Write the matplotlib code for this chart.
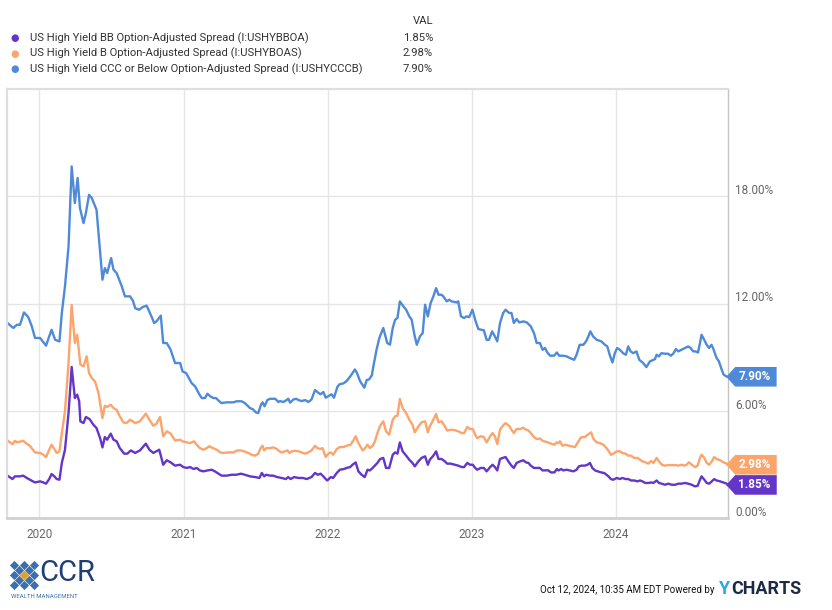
import matplotlib
matplotlib.use("Agg")
import matplotlib.pyplot as plt
from matplotlib.path import Path
import pandas as pd

plt.rcParams['font.family'] = ['Roboto', 'DejaVu Sans']

# --- data (values in %) ---
ccc_dates = [
    "2019-10-12", "2019-10-27", "2019-11-05", "2019-11-13", "2019-11-23", "2019-12-04", "2019-12-13",
    "2019-12-21", "2020-01-03", "2020-01-18", "2020-01-26", "2020-02-01", "2020-02-10", "2020-02-21",
    "2020-02-27", "2020-03-06", "2020-03-15", "2020-03-23", "2020-03-31", "2020-04-07", "2020-04-13",
    "2020-04-22", "2020-04-28", "2020-05-06", "2020-05-13", "2020-05-25", "2020-06-09", "2020-06-15",
    "2020-06-21", "2020-07-01", "2020-07-07", "2020-07-15", "2020-07-28", "2020-08-05", "2020-08-18",
    "2020-08-25", "2020-08-31", "2020-09-10", "2020-09-19", "2020-09-29", "2020-10-12", "2020-10-18",
    "2020-10-24", "2020-11-04", "2020-11-10", "2020-11-19", "2020-11-29", "2020-12-10", "2020-12-23",
    "2020-12-29", "2021-01-07", "2021-01-21", "2021-01-30", "2021-02-10", "2021-02-16", "2021-02-24",
    "2021-03-02", "2021-03-10", "2021-03-17", "2021-03-24", "2021-04-01", "2021-04-07", "2021-04-20",
    "2021-05-07", "2021-05-15", "2021-05-28", "2021-06-05", "2021-06-18", "2021-06-25", "2021-07-03",
    "2021-07-09", "2021-07-16", "2021-07-20", "2021-07-25", "2021-08-01", "2021-08-08", "2021-08-21",
    "2021-08-29", "2021-09-02", "2021-09-11", "2021-09-19", "2021-09-23", "2021-09-28", "2021-10-06",
    "2021-10-13", "2021-10-19", "2021-10-27", "2021-11-05", "2021-11-13", "2021-11-21", "2021-11-30",
    "2021-12-08", "2021-12-14", "2021-12-21", "2021-12-27", "2022-01-03", "2022-01-11", "2022-01-17",
    "2022-01-26", "2022-01-31", "2022-02-10", "2022-02-18", "2022-02-28", "2022-03-11", "2022-03-16",
    "2022-03-24", "2022-04-04", "2022-04-10", "2022-04-16", "2022-04-23", "2022-04-27", "2022-05-05",
    "2022-05-12", "2022-05-22", "2022-06-01", "2022-06-08", "2022-06-15", "2022-06-21", "2022-06-27",
    "2022-07-03", "2022-07-12", "2022-07-19", "2022-07-27", "2022-08-02", "2022-08-09", "2022-08-15",
    "2022-08-23", "2022-08-30", "2022-09-05", "2022-09-12", "2022-09-19", "2022-09-26", "2022-10-03",
    "2022-10-09", "2022-10-17", "2022-10-21", "2022-10-30", "2022-11-05", "2022-11-11", "2022-11-24",
    "2022-11-28", "2022-12-05", "2022-12-13", "2022-12-19", "2022-12-26", "2023-01-03", "2023-01-10",
    "2023-01-18", "2023-01-26", "2023-02-01", "2023-02-08", "2023-02-14", "2023-02-22", "2023-03-01",
    "2023-03-07", "2023-03-14", "2023-03-22", "2023-03-28", "2023-04-06", "2023-04-12", "2023-04-18",
    "2023-04-25", "2023-05-02", "2023-05-12", "2023-05-21", "2023-05-31", "2023-06-08", "2023-06-15",
    "2023-06-23", "2023-06-30", "2023-07-06", "2023-07-12", "2023-07-19", "2023-07-29", "2023-08-05",
    "2023-08-11", "2023-08-21", "2023-08-30", "2023-09-07", "2023-09-18", "2023-09-24", "2023-10-02",
    "2023-10-11", "2023-10-18", "2023-10-24", "2023-10-29", "2023-11-05", "2023-11-14", "2023-11-26",
    "2023-12-05", "2023-12-11", "2023-12-17", "2023-12-24", "2023-12-30", "2024-01-05", "2024-01-12",
    "2024-01-20", "2024-01-27", "2024-02-02", "2024-02-08", "2024-02-15", "2024-02-23", "2024-03-01",
    "2024-03-11", "2024-03-19", "2024-03-28", "2024-04-03", "2024-04-10", "2024-04-14", "2024-04-20",
    "2024-04-26", "2024-05-05", "2024-05-13", "2024-05-20", "2024-05-26", "2024-06-02", "2024-06-08",
    "2024-06-16", "2024-06-25", "2024-07-03", "2024-07-09", "2024-07-16", "2024-07-22", "2024-07-28",
    "2024-08-02", "2024-08-06", "2024-08-12", "2024-08-19", "2024-08-25", "2024-08-31", "2024-09-04",
    "2024-09-13", "2024-09-19", "2024-09-26", "2024-10-01", "2024-10-08", "2024-10-11",
]
ccc_vals = [
    10.91, 10.63, 10.81, 10.81, 11.50, 11.24, 10.72,
    10.07, 10.07, 9.64, 10.16, 10.53, 9.97, 9.88,
    11.47, 12.96, 15.19, 19.67, 17.62, 19.02, 17.34,
    16.50, 17.06, 18.08, 17.90, 17.24, 13.33, 13.98,
    13.70, 14.54, 13.89, 13.70, 12.96, 12.40, 12.40,
    12.17, 11.74, 11.65, 11.80, 11.88, 11.24, 10.91,
    11.00, 11.32, 9.79, 9.79, 9.41, 8.67, 8.67,
    8.20, 8.11, 7.55, 7.36, 6.90, 6.71, 6.71,
    6.95, 6.80, 6.71, 6.71, 6.53, 6.43, 6.47,
    6.47, 6.53, 6.53, 6.43, 6.15, 6.09, 5.91,
    5.87, 6.34, 6.47, 6.25, 6.60, 6.67, 6.67,
    6.49, 6.54, 6.49, 6.60, 6.67, 6.45, 6.63,
    6.67, 6.60, 6.54, 6.60, 6.49, 6.63, 7.16,
    7.01, 6.92, 7.05, 6.73, 6.82, 6.92, 6.73,
    7.35, 7.48, 7.53, 7.66, 7.94, 8.31, 8.13,
    7.66, 7.29, 7.72, 7.75, 7.98, 8.50, 9.42,
    10.07, 10.63, 9.79, 9.70, 10.63, 11.09, 11.19,
    12.12, 11.84, 11.65, 11.28, 11.09, 10.25, 9.69,
    10.16, 10.35, 11.93, 11.28, 12.02, 12.40, 12.86,
    12.49, 12.49, 12.40, 12.12, 12.21, 12.12, 12.06,
    12.12, 11.28, 11.19, 11.28, 11.24, 11.65, 11.09,
    10.57, 10.53, 10.50, 9.97, 9.97, 10.44, 10.16,
    9.88, 10.91, 11.47, 11.65, 11.47, 11.47, 10.91,
    11.13, 10.94, 11.00, 10.94, 10.72, 10.35, 9.79,
    9.79, 9.41, 9.51, 9.26, 9.08, 9.08, 9.26,
    9.08, 9.08, 9.04, 8.95, 8.85, 9.13, 9.69,
    9.69, 9.88, 10.16, 10.44, 10.16, 9.97, 9.88,
    9.69, 9.60, 9.13, 8.70, 9.22, 9.51, 9.41,
    9.22, 9.13, 9.60, 9.32, 9.22, 9.32, 8.85,
    8.67, 8.44, 8.76, 8.82, 8.89, 9.13, 9.04,
    9.22, 9.19, 9.19, 9.08, 9.19, 9.45, 9.32,
    9.41, 9.51, 9.60, 9.51, 9.32, 9.32, 9.26,
    9.79, 10.25, 10.00, 9.69, 9.51, 9.69, 9.51,
    8.95, 8.76, 8.30, 8.02, 7.92, 7.90,
]

b_dates = [
    "2019-10-12", "2019-10-25", "2019-10-31", "2019-11-06", "2019-11-21", "2019-11-28", "2019-12-08",
    "2019-12-21", "2020-01-03", "2020-01-11", "2020-01-18", "2020-01-26", "2020-02-01", "2020-02-08",
    "2020-02-14", "2020-02-21", "2020-02-27", "2020-03-06", "2020-03-15", "2020-03-23", "2020-03-31",
    "2020-04-06", "2020-04-14", "2020-04-22", "2020-04-30", "2020-05-06", "2020-05-13", "2020-05-21",
    "2020-05-30", "2020-06-09", "2020-06-15", "2020-06-21", "2020-06-30", "2020-07-07", "2020-07-15",
    "2020-07-23", "2020-08-01", "2020-08-09", "2020-08-18", "2020-08-31", "2020-09-12", "2020-09-27",
    "2020-10-06", "2020-10-16", "2020-10-24", "2020-11-02", "2020-11-10", "2020-11-19", "2020-11-29",
    "2020-12-10", "2020-12-23", "2020-12-29", "2021-01-09", "2021-01-17", "2021-01-27", "2021-02-03",
    "2021-02-11", "2021-02-20", "2021-02-28", "2021-03-07", "2021-03-16", "2021-03-26", "2021-04-03",
    "2021-04-12", "2021-04-24", "2021-05-07", "2021-05-17", "2021-05-26", "2021-06-03", "2021-06-14",
    "2021-06-22", "2021-07-01", "2021-07-09", "2021-07-15", "2021-07-20", "2021-07-24", "2021-07-30",
    "2021-08-08", "2021-08-16", "2021-08-25", "2021-09-01", "2021-09-06", "2021-09-15", "2021-09-21",
    "2021-09-26", "2021-10-02", "2021-10-10", "2021-10-19", "2021-10-27", "2021-11-05", "2021-11-13",
    "2021-11-21", "2021-11-30", "2021-12-06", "2021-12-13", "2021-12-19", "2021-12-27", "2022-01-03",
    "2022-01-09", "2022-01-15", "2022-01-24", "2022-02-01", "2022-02-10", "2022-02-18", "2022-02-28",
    "2022-03-07", "2022-03-13", "2022-03-20", "2022-03-31", "2022-04-06", "2022-04-12", "2022-04-18",
    "2022-04-25", "2022-05-01", "2022-05-07", "2022-05-14", "2022-05-22", "2022-05-29", "2022-06-06",
    "2022-06-15", "2022-06-21", "2022-06-27", "2022-07-03", "2022-07-10", "2022-07-19", "2022-07-27",
    "2022-08-04", "2022-08-10", "2022-08-19", "2022-08-27", "2022-09-05", "2022-09-12", "2022-09-17",
    "2022-09-26", "2022-10-03", "2022-10-09", "2022-10-17", "2022-10-25", "2022-10-31", "2022-11-09",
    "2022-11-20", "2022-11-28", "2022-12-07", "2022-12-13", "2022-12-21", "2022-12-28", "2023-01-04",
    "2023-01-10", "2023-01-15", "2023-01-24", "2023-02-01", "2023-02-08", "2023-02-17", "2023-02-23",
    "2023-03-01", "2023-03-07", "2023-03-14", "2023-03-21", "2023-03-28", "2023-04-07", "2023-04-12",
    "2023-04-18", "2023-04-25", "2023-05-04", "2023-05-12", "2023-05-19", "2023-05-25", "2023-05-31",
    "2023-06-08", "2023-06-15", "2023-06-23", "2023-06-30", "2023-07-13", "2023-07-21", "2023-07-30",
    "2023-08-05", "2023-08-09", "2023-08-13", "2023-08-19", "2023-08-27", "2023-09-03", "2023-09-12",
    "2023-09-20", "2023-09-29", "2023-10-05", "2023-10-15", "2023-10-22", "2023-10-31", "2023-11-06",
    "2023-11-14", "2023-11-22", "2023-12-01", "2023-12-09", "2023-12-15", "2023-12-20", "2023-12-26",
    "2024-01-04", "2024-01-12", "2024-01-18", "2024-01-26", "2024-02-02", "2024-02-09", "2024-02-17",
    "2024-02-26", "2024-03-03", "2024-03-09", "2024-03-16", "2024-03-24", "2024-03-31", "2024-04-06",
    "2024-04-14", "2024-04-20", "2024-04-27", "2024-05-05", "2024-05-14", "2024-05-24", "2024-06-01",
    "2024-06-08", "2024-06-16", "2024-06-23", "2024-06-29", "2024-07-05", "2024-07-12", "2024-07-20",
    "2024-07-27", "2024-08-02", "2024-08-06", "2024-08-13", "2024-08-19", "2024-08-25", "2024-09-01",
    "2024-09-07", "2024-09-13", "2024-09-22", "2024-09-30", "2024-10-09", "2024-10-11",
]
b_vals = [
    4.34, 4.13, 4.32, 4.23, 4.32, 4.19, 4.04,
    3.67, 3.64, 3.54, 3.41, 3.82, 4.10, 3.86,
    3.64, 3.73, 4.75, 5.97, 8.67, 11.93, 9.79,
    10.25, 8.58, 8.48, 9.04, 8.11, 7.83, 7.64,
    6.99, 5.59, 6.28, 6.21, 6.34, 6.15, 6.05,
    5.69, 5.35, 5.31, 5.50, 5.31, 5.41, 5.84,
    5.50, 5.16, 5.28, 5.65, 4.57, 4.85, 4.72,
    4.34, 4.38, 4.29, 4.23, 4.19, 4.29, 4.10,
    3.91, 3.82, 3.91, 4.01, 3.91, 3.82, 3.67,
    3.64, 3.67, 3.67, 3.78, 3.78, 3.73, 3.64,
    3.54, 3.49, 3.60, 3.91, 4.04, 3.78, 3.91,
    3.91, 3.95, 3.86, 3.73, 3.67, 3.73, 3.78,
    3.64, 3.73, 3.76, 3.73, 3.67, 3.60, 3.67,
    3.78, 4.04, 3.91, 3.86, 3.91, 3.41, 3.60,
    3.67, 3.54, 3.86, 3.97, 3.97, 4.04, 4.10,
    4.34, 4.57, 4.19, 3.78, 3.91, 4.10, 3.91,
    4.04, 4.29, 4.75, 5.16, 5.41, 4.85, 4.66,
    5.50, 5.69, 5.72, 6.66, 6.15, 5.87, 5.50,
    5.22, 4.79, 5.13, 5.35, 5.41, 4.79, 5.13,
    5.50, 5.82, 5.35, 5.41, 5.13, 4.89, 4.94,
    4.91, 4.85, 4.75, 4.75, 5.09, 4.98, 4.98,
    4.66, 4.47, 4.57, 4.53, 4.23, 4.57, 4.75,
    4.57, 4.14, 4.94, 5.16, 5.31, 5.13, 4.94,
    4.75, 4.98, 4.98, 5.05, 4.94, 4.89, 4.75,
    4.53, 4.42, 4.45, 4.32, 4.23, 4.16, 4.10,
    4.23, 4.19, 4.29, 4.05, 4.10, 4.05, 4.01,
    3.97, 4.29, 4.51, 4.53, 4.66, 4.79, 4.42,
    4.23, 4.19, 4.10, 3.91, 3.73, 3.54, 3.60,
    3.73, 3.73, 3.64, 3.60, 3.49, 3.49, 3.36,
    3.36, 3.26, 3.17, 3.12, 3.04, 3.19, 3.08,
    3.36, 3.17, 2.98, 2.93, 2.96, 2.96, 2.96,
    2.93, 2.98, 2.93, 2.98, 3.12, 2.98, 2.85,
    2.93, 3.36, 3.54, 3.36, 3.08, 2.98, 3.17,
    3.41, 3.30, 3.23, 3.12, 3.04, 2.98,
]

bb_dates = [
    "2019-10-12", "2019-10-25", "2019-10-31", "2019-11-13", "2019-11-21", "2019-11-28", "2019-12-08",
    "2019-12-21", "2020-01-03", "2020-01-11", "2020-01-18", "2020-01-26", "2020-02-01", "2020-02-08",
    "2020-02-14", "2020-02-21", "2020-02-27", "2020-03-06", "2020-03-15", "2020-03-23", "2020-03-31",
    "2020-04-06", "2020-04-11", "2020-04-14", "2020-04-22", "2020-04-28", "2020-05-07", "2020-05-17",
    "2020-05-25", "2020-06-03", "2020-06-09", "2020-06-15", "2020-06-21", "2020-06-30", "2020-07-07",
    "2020-07-15", "2020-07-23", "2020-08-03", "2020-08-11", "2020-08-20", "2020-08-31", "2020-09-12",
    "2020-09-27", "2020-10-06", "2020-10-16", "2020-10-31", "2020-11-10", "2020-11-19", "2020-11-29",
    "2020-12-10", "2020-12-23", "2020-12-31", "2021-01-09", "2021-01-17", "2021-01-26", "2021-02-03",
    "2021-02-11", "2021-02-20", "2021-03-02", "2021-03-13", "2021-03-21", "2021-03-30", "2021-04-07",
    "2021-04-20", "2021-05-03", "2021-05-15", "2021-05-26", "2021-06-05", "2021-06-18", "2021-07-01",
    "2021-07-12", "2021-07-18", "2021-07-24", "2021-07-29", "2021-08-08", "2021-08-16", "2021-08-26",
    "2021-09-06", "2021-09-17", "2021-09-23", "2021-09-29", "2021-10-08", "2021-10-19", "2021-10-30",
    "2021-11-09", "2021-11-21", "2021-11-30", "2021-12-07", "2021-12-14", "2021-12-21", "2021-12-27",
    "2021-12-31", "2022-01-09", "2022-01-15", "2022-01-24", "2022-02-01", "2022-02-11", "2022-02-18",
    "2022-02-27", "2022-03-05", "2022-03-13", "2022-03-20", "2022-03-28", "2022-04-05", "2022-04-12",
    "2022-04-18", "2022-04-25", "2022-05-01", "2022-05-07", "2022-05-14", "2022-05-22", "2022-05-29",
    "2022-06-06", "2022-06-15", "2022-06-21", "2022-06-27", "2022-07-03", "2022-07-10", "2022-07-19",
    "2022-07-27", "2022-08-04", "2022-08-10", "2022-08-19", "2022-08-27", "2022-09-05", "2022-09-12",
    "2022-09-17", "2022-09-26", "2022-10-03", "2022-10-09", "2022-10-17", "2022-10-25", "2022-10-31",
    "2022-11-09", "2022-11-20", "2022-11-28", "2022-12-07", "2022-12-13", "2022-12-21", "2022-12-28",
    "2023-01-04", "2023-01-10", "2023-01-15", "2023-01-24", "2023-02-01", "2023-02-08", "2023-02-17",
    "2023-02-23", "2023-03-01", "2023-03-07", "2023-03-14", "2023-03-21", "2023-03-28", "2023-04-07",
    "2023-04-12", "2023-04-18", "2023-04-25", "2023-05-04", "2023-05-12", "2023-05-19", "2023-05-25",
    "2023-05-31", "2023-06-08", "2023-06-15", "2023-06-23", "2023-06-30", "2023-07-14", "2023-07-21",
    "2023-07-30", "2023-08-05", "2023-08-09", "2023-08-16", "2023-08-21", "2023-08-30", "2023-09-07",
    "2023-09-16", "2023-09-24", "2023-09-30", "2023-10-07", "2023-10-15", "2023-10-22", "2023-10-28",
    "2023-11-03", "2023-11-10", "2023-11-17", "2023-11-25", "2023-12-03", "2023-12-14", "2023-12-20",
    "2023-12-26", "2024-01-04", "2024-01-12", "2024-01-18", "2024-01-26", "2024-02-02", "2024-02-09",
    "2024-02-17", "2024-02-26", "2024-03-03", "2024-03-09", "2024-03-16", "2024-03-24", "2024-03-31",
    "2024-04-06", "2024-04-14", "2024-04-20", "2024-04-27", "2024-05-05", "2024-05-14", "2024-05-22",
    "2024-05-31", "2024-06-08", "2024-06-16", "2024-06-25", "2024-07-03", "2024-07-12", "2024-07-20",
    "2024-07-27", "2024-08-02", "2024-08-06", "2024-08-13", "2024-08-19", "2024-08-25", "2024-09-01",
    "2024-09-07", "2024-09-13", "2024-09-22", "2024-09-30", "2024-10-09", "2024-10-11",
]
bb_vals = [
    2.37, 2.18, 2.33, 2.33, 2.37, 2.27, 2.14,
    1.99, 2.05, 1.99, 1.92, 2.18, 2.46, 2.33,
    2.18, 2.14, 3.08, 3.82, 5.87, 8.45, 6.71,
    6.90, 6.53, 5.41, 5.31, 5.65, 5.54, 5.22,
    5.03, 4.47, 3.95, 4.53, 4.38, 4.72, 4.38,
    4.29, 3.91, 3.60, 3.60, 3.78, 3.64, 3.78,
    4.16, 3.82, 3.64, 3.82, 2.98, 3.23, 3.11,
    2.93, 2.98, 2.85, 2.80, 2.85, 2.74, 2.80,
    2.66, 2.61, 2.66, 2.70, 2.61, 2.48, 2.37,
    2.37, 2.42, 2.42, 2.48, 2.42, 2.33, 2.29,
    2.24, 2.52, 2.33, 2.42, 2.37, 2.37, 2.29,
    2.24, 2.18, 2.29, 2.18, 2.29, 2.24, 2.24,
    2.18, 2.29, 2.52, 2.42, 2.48, 2.33, 2.18,
    2.10, 2.29, 2.24, 2.52, 2.70, 2.74, 2.80,
    2.85, 2.98, 3.11, 2.61, 2.42, 2.29, 2.70,
    2.66, 2.80, 2.94, 3.08, 3.30, 3.36, 2.80,
    2.80, 3.54, 3.67, 3.60, 4.23, 3.73, 3.49,
    3.26, 3.08, 2.89, 3.17, 3.36, 3.45, 2.98,
    3.26, 3.49, 3.73, 3.30, 3.30, 3.17, 3.04,
    3.04, 2.98, 2.93, 2.85, 2.85, 3.08, 2.98,
    2.98, 2.80, 2.70, 2.80, 2.80, 2.61, 2.85,
    2.98, 2.85, 2.66, 3.30, 3.36, 3.41, 3.08,
    2.93, 2.80, 3.08, 3.17, 3.23, 3.11, 3.08,
    2.93, 2.80, 2.80, 2.80, 2.66, 2.67, 2.55,
    2.55, 2.74, 2.66, 2.74, 2.66, 2.70, 2.66,
    2.61, 2.70, 2.89, 2.93, 2.93, 2.98, 3.08,
    2.80, 2.66, 2.61, 2.55, 2.52, 2.33, 2.18,
    2.14, 2.24, 2.18, 2.24, 2.18, 2.18, 2.10,
    2.10, 2.05, 2.10, 2.05, 1.96, 1.96, 1.99,
    1.96, 2.10, 1.96, 1.92, 1.86, 1.92, 1.86,
    1.86, 1.92, 1.92, 1.96, 1.92, 1.86, 1.77,
    1.80, 2.14, 2.33, 2.14, 1.96, 1.92, 2.05,
    2.18, 2.10, 2.05, 1.99, 1.92, 1.85,
]

names = [
    "US High Yield BB Option-Adjusted Spread (I:USHYBBOA)",
    "US High Yield B Option-Adjusted Spread (I:USHYBOAS)",
    "US High Yield CCC or Below Option-Adjusted Spread (I:USHYCCCB)",
]
colors = ["#6435c9", "#fca46c", "#4f8ad9"]
y_ticks = [0, 6, 12, 18]
year_ticks = ["2020", "2021", "2022", "2023", "2024"]

series = [
    (names[0], bb_dates, bb_vals, colors[0]),
    (names[1], b_dates, b_vals, colors[1]),
    (names[2], ccc_dates, ccc_vals, colors[2]),
]


def tag_box(x0, y0, width, height, mutation_size):
    # value tag: a box with a small point on its left side
    pad = 0.28 * mutation_size
    left, right = x0 - pad, x0 + width + pad * 1.8
    bottom, top = y0 - pad, y0 + height + pad
    tip = 0.45 * (top - bottom)
    return Path([(left, bottom), (right, bottom), (right, top), (left, top),
                 (left - tip, (bottom + top) / 2), (left, bottom), (left, bottom)],
                closed=True)


W, H = 832, 610
fig = plt.figure(figsize=(W / 100, H / 100), dpi=100)
ax = fig.add_axes([7 / W, 1 - 518 / H, 721 / W, 429 / H])

for name, d, v, c in series:
    ax.plot(pd.to_datetime(d), v, color=c, lw=1.7, solid_joinstyle="round")

ax.set_ylim(0, 24)
ax.set_xlim(pd.Timestamp("2019-10-11"), pd.Timestamp("2024-10-12"))
ax.set_yticks(y_ticks)
ax.set_yticklabels([])
ax.set_xticks(pd.to_datetime([y + "-01-01" for y in year_ticks]))
ax.set_xticklabels(year_ticks)
ax.tick_params(axis="both", length=0)
ax.tick_params(axis="x", pad=7, labelsize=8.5, labelcolor="#666666")
ax.grid(True, color="#e6e6e6", lw=1)
ax.set_axisbelow(True)
for side in ["left", "top"]:
    ax.spines[side].set_color("#dedede")
    ax.spines[side].set_linewidth(1.6)
ax.spines["bottom"].set_color("#d0d0d0")
ax.spines["bottom"].set_linewidth(2)
ax.spines["right"].set_color("#c4c4c4")
ax.spines["right"].set_linewidth(1)

# y labels on the right, sitting a little above their gridline
for t in y_ticks:
    ax.annotate(f"{t:.2f}%", xy=(1, t), xycoords=("axes fraction", "data"),
                xytext=(5, 4), textcoords="offset points", ha="left", va="center",
                fontsize=8.5, color="#666666", annotation_clip=False)

# last-value tags
for name, d, v, c in series:
    ax.annotate(f"{v[-1]:.2f}%", xy=(1, v[-1]), xycoords=("axes fraction", "data"),
                xytext=(7.5, 0), textcoords="offset points", ha="left", va="center",
                fontsize=8.5, fontweight="bold", color="white", annotation_clip=False,
                bbox=dict(boxstyle=tag_box, fc=c, ec="none"))

# legend table at the top
fig.text(433 / W, 1 - 21 / H, "VAL", ha="right", va="center", fontsize=8.1, color="#333333")
for i, (name, d, v, c) in enumerate(series):
    yy = 1 - (38 + 15.5 * i) / H
    fig.text(15 / W, yy, "\u25cf", ha="center", va="center", fontsize=7, color=c)
    fig.text(30 / W, yy, name, ha="left", va="center", fontsize=8.1, color="#333333")
    fig.text(433 / W, yy, f"{v[-1]:.2f}%", ha="right", va="center", fontsize=8.1, color="#333333")

# footer: CCR logo (approximation) and YCharts credit
navy = "#1d3f72"
logo_ax = fig.add_axes([9 / W, 1 - 590 / H, 30 / W, 30 / H])
logo_ax.set_xlim(-3, 3)
logo_ax.set_ylim(-3, 3)
logo_ax.axis("off")
logo_x = [-2, 0, 2, -1, 1, -2, 2, -1, 1, -2, 0, 2]
logo_y = [2, 2, 2, 1, 1, 0, 0, -1, -1, -2, -2, -2]
logo_ax.scatter(logo_x, logo_y, marker="D", s=22, color="#3a6fb0", lw=0)
logo_ax.scatter([0], [0], marker="D", s=26, color="#e0a030", lw=0)
fig.text(39 / W, 1 - 573 / H, "CCR", ha="left", va="center", fontsize=21, color=navy)
fig.text(11 / W, 1 - 596 / H, "WEALTH MANAGEMENT", ha="left", va="center", fontsize=4.3, color="#3a6fb0")

fig.text(715 / W, 1 - 590 / H, "Oct 12, 2024, 10:35 AM EDT Powered by", ha="right", va="center",
         fontsize=7, color="#111111")
fig.text(719 / W, 1 - 589 / H, "Y", ha="left", va="center", fontsize=13, fontweight="bold", color="#2ea8e0")
fig.text(731 / W, 1 - 589 / H, "CHARTS", ha="left", va="center", fontsize=13, fontweight="bold", color="#1b2a47")

fig.savefig("out.png", dpi=100)
